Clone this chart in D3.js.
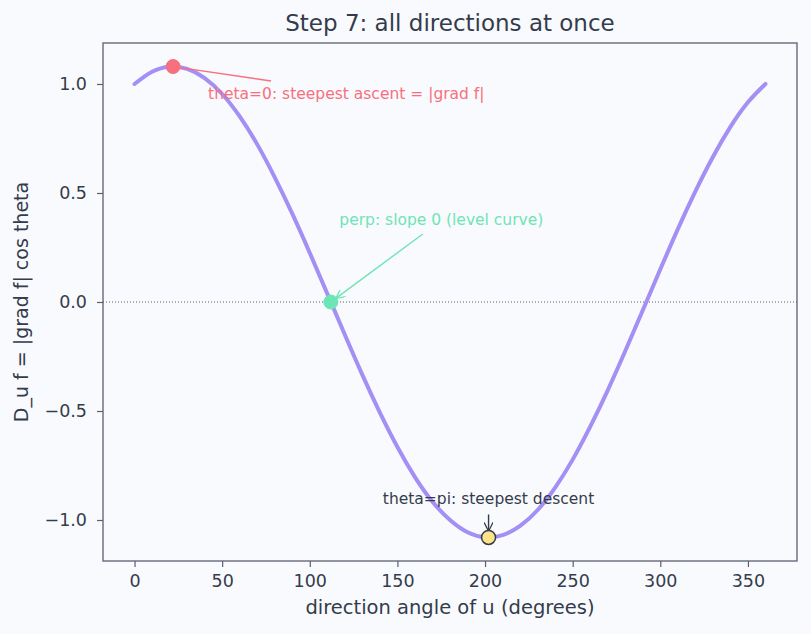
<!DOCTYPE html>
<html>
<head>
<meta charset="utf-8">
<script src="https://cdn.jsdelivr.net/npm/d3@7"></script>
<style>
  body { margin: 0; background: #f9fafd; }
  svg text { font-family: "DejaVu Sans", sans-serif; fill: #343c4c; }
</style>
</head>
<body>
<div id="chart"></div>
<script>
// direction angle (degrees) and directional derivative
var angles = [0, 10, 20, 30, 40, 50, 60, 70, 80, 90, 100, 110, 120, 130, 140, 150, 160, 170, 180,
              190, 200, 210, 220, 230, 240, 250, 260, 270, 280, 290, 300, 310, 320, 330, 340, 350, 360];
var slopes = [1.00, 1.056, 1.079, 1.069, 1.027, 0.954, 0.851, 0.723, 0.572, 0.405, 0.225, 0.038, -0.150, -0.334, -0.507, -0.665, -0.803, -0.916, -1.00,
              -1.056, -1.079, -1.069, -1.027, -0.954, -0.851, -0.723, -0.572, -0.405, -0.225, -0.038, 0.150, 0.334, 0.507, 0.665, 0.803, 0.916, 1.00];

// highlighted points
var markAngles = [22, 112, 202];
var markValues = [1.08, 0.0, -1.08];
var markLabels = ["theta=0: steepest ascent = |grad f|", "perp: slope 0 (level curve)", "theta=pi: steepest descent"];

var xTicks = [0, 50, 100, 150, 200, 250, 300, 350];
var yTicks = [-1.0, -0.5, 0.0, 0.5, 1.0];

var width = 811, height = 634;
var margin = {top: 43, right: 14, bottom: 73, left: 103};

var svg = d3.select('#chart').append('svg')
    .attr('width', width)
    .attr('height', height);

svg.append('rect').attr('width', width).attr('height', height).attr('fill', '#f9fafd');

var x = d3.scaleLinear().domain([-18, 378]).range([margin.left, width - margin.right]);
var y = d3.scaleLinear().domain([-1.188, 1.188]).range([height - margin.bottom, margin.top]);

var axisColor = '#5b6070';

// zero line
svg.append('line')
    .attr('x1', margin.left).attr('x2', width - margin.right)
    .attr('y1', y(0)).attr('y2', y(0))
    .attr('stroke', '#444a58')
    .attr('stroke-width', 0.9)
    .attr('stroke-dasharray', '1,2');

var data = angles.map(function (a, i) { return {a: a, v: slopes[i]}; });

var line = d3.line()
    .x(function (d) { return x(d.a); })
    .y(function (d) { return y(d.v); })
    .curve(d3.curveNatural);

svg.append('path')
    .datum(data)
    .attr('d', line)
    .attr('fill', 'none')
    .attr('stroke', '#a48ff5')
    .attr('stroke-width', 4)
    .attr('stroke-linecap', 'round');

// arrow markers
var defs = svg.append('defs');
function arrowHead(id, color) {
    defs.append('marker')
        .attr('id', id)
        .attr('viewBox', '0 0 10 10')
        .attr('refX', 9).attr('refY', 5)
        .attr('markerWidth', 9).attr('markerHeight', 9)
        .attr('markerUnits', 'userSpaceOnUse')
        .attr('orient', 'auto')
        .append('path')
        .attr('d', 'M0,0 L10,5 L0,10')
        .attr('fill', 'none')
        .attr('stroke', color)
        .attr('stroke-width', 1.4);
}

var colors = ['#f7707f', '#6ee5b4', '#343c4c'];
arrowHead('arr0', colors[0]);
arrowHead('arr1', colors[1]);
arrowHead('arr2', colors[2]);

// annotation offsets in pixels from the marked point
var textOffsets = [[35, 32], [8.5, -77], [0, -33.5]];
var arrowStarts = [[98, 14.5], [92, -68], [0, -23]];

markAngles.forEach(function (a, i) {
    var px = x(a), py = y(markValues[i]);
    var sx = px + arrowStarts[i][0], sy = py + arrowStarts[i][1];
    var dx = px - sx, dy = py - sy, len = Math.sqrt(dx * dx + dy * dy);
    var ex = px - dx / len * 7, ey = py - dy / len * 7;
    var ln = svg.append('line')
        .attr('x1', sx).attr('y1', sy).attr('x2', ex).attr('y2', ey)
        .attr('stroke', colors[i]).attr('stroke-width', 1.4);
    if (i > 0) ln.attr('marker-end', 'url(#arr' + i + ')');
});

var fills = ['#f7707f', '#6ee5b4', '#fde28a'];
markAngles.forEach(function (a, i) {
    svg.append('circle')
        .attr('cx', x(a)).attr('cy', y(markValues[i]))
        .attr('r', 7)
        .attr('fill', fills[i])
        .attr('stroke', i === 2 ? '#343c4c' : fills[i])
        .attr('stroke-width', i === 2 ? 1.5 : 1);
});

markAngles.forEach(function (a, i) {
    svg.append('text')
        .attr('x', x(a) + textOffsets[i][0])
        .attr('y', y(markValues[i]) + textOffsets[i][1])
        .attr('text-anchor', i === 2 ? 'middle' : 'start')
        .attr('font-size', '15.5px')
        .style('fill', colors[i])
        .text(markLabels[i]);
});

// axes
var xAxis = svg.append('g')
    .attr('transform', 'translate(0,' + (height - margin.bottom) + ')')
    .call(d3.axisBottom(x).tickValues(xTicks).tickSize(6).tickPadding(8).tickFormat(d3.format('d')));
var yAxis = svg.append('g')
    .attr('transform', 'translate(' + margin.left + ',0)')
    .call(d3.axisLeft(y).tickValues(yTicks).tickSize(6).tickPadding(10)
        .tickFormat(function (d) { return d3.format('.1f')(d).replace('-', '\u2212'); }));

[xAxis, yAxis].forEach(function (g) {
    g.select('.domain').remove();
    g.selectAll('line').attr('stroke', axisColor).attr('stroke-width', 1.2);
    g.selectAll('text').attr('font-size', '17.5px').style('fill', '#343c4c');
});

// frame
svg.append('rect')
    .attr('x', margin.left).attr('y', margin.top)
    .attr('width', width - margin.left - margin.right)
    .attr('height', height - margin.top - margin.bottom)
    .attr('fill', 'none')
    .attr('stroke', axisColor)
    .attr('stroke-width', 1.3);

// titles
svg.append('text')
    .attr('x', (margin.left + width - margin.right) / 2)
    .attr('y', 31)
    .attr('text-anchor', 'middle')
    .attr('font-size', '23px')
    .text('Step 7: all directions at once');

svg.append('text')
    .attr('x', (margin.left + width - margin.right) / 2)
    .attr('y', 614)
    .attr('text-anchor', 'middle')
    .attr('font-size', '19.5px')
    .text('direction angle of u (degrees)');

svg.append('text')
    .attr('transform', 'translate(28,' + ((margin.top + height - margin.bottom) / 2) + ') rotate(-90)')
    .attr('text-anchor', 'middle')
    .attr('font-size', '19px')
    .text('D_u f = |grad f| cos theta');
</script>
</body>
</html>
